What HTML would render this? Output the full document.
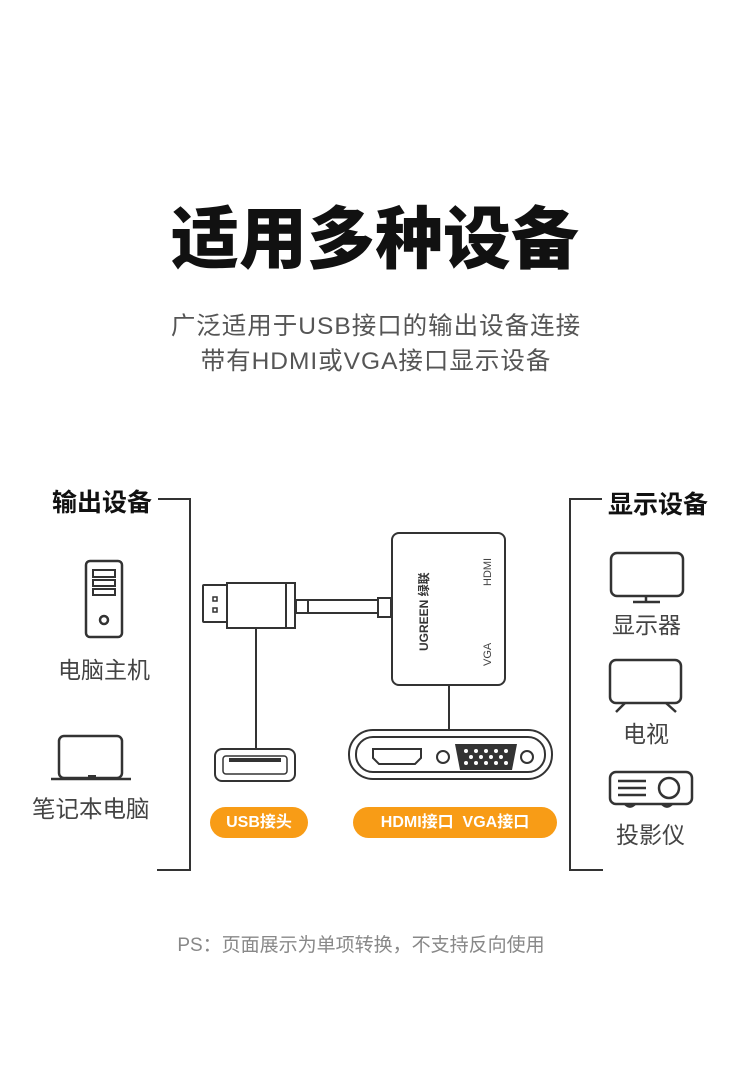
<!DOCTYPE html>
<html><head><meta charset="utf-8"><style>
body{margin:0;width:750px;height:1089px;background:#fff;font-family:"Liberation Sans","Noto Sans CJK SC",sans-serif;position:relative;overflow:hidden}
.t{position:absolute;white-space:nowrap}
</style></head><body>
<div class="t" style="left:0;width:750px;top:184px;text-align:center;font-size:68px;font-weight:900;color:#111">适用多种设备</div>
<div class="t" style="left:0;width:752px;top:309px;text-align:center;font-size:24.5px;letter-spacing:1px;color:#555;line-height:35px">广泛适用于USB接口的输出设备连接<br>带有HDMI或VGA接口显示设备</div>
<div class="t" style="left:52px;top:483px;font-size:25px;font-weight:bold;color:#111">输出设备</div>
<div class="t" style="left:608px;top:485px;font-size:25px;font-weight:bold;color:#111">显示设备</div>
<div class="t" style="left:58px;top:651px;font-size:23px;color:#444">电脑主机</div>
<div class="t" style="left:32px;top:790px;font-size:23.5px;color:#444">笔记本电脑</div>
<div class="t" style="left:612px;top:606px;font-size:23px;color:#444">显示器</div>
<div class="t" style="left:623px;top:715px;font-size:23px;color:#444">电视</div>
<div class="t" style="left:616px;top:816px;font-size:23px;color:#444">投影仪</div>
<div class="t" style="left:0;width:722px;top:930px;text-align:center;font-size:19px;color:#888">PS：页面展示为单项转换，不支持反向使用</div>
<svg width="750" height="1089" style="position:absolute;left:0;top:0" fill="none" stroke="#333" stroke-width="2.5">
<polyline points="158,499 190,499 190,870 157,870" stroke-width="2"/>
<polyline points="602,499 570,499 570,870 603,870" stroke-width="2"/>
<rect x="86" y="561" width="36" height="76" rx="4"/>
<rect x="93" y="570" width="22" height="7" stroke-width="2"/>
<rect x="93" y="580" width="22" height="6" stroke-width="2"/>
<rect x="93" y="589" width="22" height="6" stroke-width="2"/>
<circle cx="104" cy="620" r="4" stroke-width="2.5"/>
<rect x="59" y="736" width="63" height="42" rx="5"/>
<line x1="51" y1="779" x2="131" y2="779" stroke-width="2.5"/>
<line x1="88" y1="776" x2="96" y2="776" stroke-width="2"/>
<rect x="611" y="553" width="72" height="43" rx="6"/>
<line x1="646" y1="596" x2="646" y2="602"/><line x1="633" y1="602" x2="660" y2="602"/>
<rect x="610" y="660" width="71" height="43" rx="6"/>
<line x1="625" y1="703" x2="616" y2="712"/><line x1="666" y1="703" x2="676" y2="712"/>
<rect x="610" y="772" width="82" height="32" rx="6"/>
<line x1="618" y1="781" x2="646" y2="781"/><line x1="618" y1="788" x2="646" y2="788"/><line x1="618" y1="795" x2="646" y2="795"/>
<circle cx="669" cy="788" r="10"/>
<path d="M625 804 q5 5 10 0 M662 804 q5 5 10 0"/>
<rect x="203" y="585" width="24" height="37" rx="1" stroke-width="2"/>
<rect x="213" y="597" width="4" height="4" stroke-width="1.5"/><rect x="213" y="608" width="4" height="4" stroke-width="1.5"/>
<rect x="227" y="583" width="68" height="45" stroke-width="2"/>
<line x1="286" y1="583" x2="286" y2="628" stroke-width="2"/>
<rect x="296" y="600" width="12" height="13" stroke-width="2"/>
<line x1="308" y1="600" x2="378" y2="600" stroke-width="2"/><line x1="308" y1="613" x2="378" y2="613" stroke-width="2"/>
<rect x="378" y="598" width="13" height="19" stroke-width="2"/>
<rect x="392" y="533" width="113" height="152" rx="7" stroke-width="2"/>
<line x1="256" y1="628" x2="256" y2="749" stroke-width="2"/>
<rect x="215" y="749" width="80" height="32" rx="7" stroke-width="2"/>
<rect x="223" y="756" width="64" height="18" rx="3" stroke-width="1.5"/>
<path d="M229 760h52" stroke-width="4"/>
<line x1="449" y1="685" x2="449" y2="730" stroke-width="2"/>
<rect x="349" y="730" width="203" height="49" rx="24" stroke-width="2"/>
<rect x="356" y="737" width="189" height="35" rx="17" stroke-width="2"/>
<path d="M373 749 h48 v9 l-6 6 h-36 l-6 -6z" stroke-width="2"/>
<circle cx="443" cy="757" r="6" stroke-width="2"/>
<circle cx="527" cy="757" r="6" stroke-width="2"/>
<path d="M455 744 h62 l-5 26 h-52z" fill="#333" stroke="none"/>
<g fill="#fff" stroke="none">
<circle cx="466" cy="751" r="2"/><circle cx="476" cy="751" r="2"/><circle cx="486" cy="751" r="2"/><circle cx="496" cy="751" r="2"/><circle cx="506" cy="751" r="2"/>
<circle cx="471" cy="757" r="2"/><circle cx="481" cy="757" r="2"/><circle cx="491" cy="757" r="2"/><circle cx="501" cy="757" r="2"/>
<circle cx="466" cy="763" r="2"/><circle cx="476" cy="763" r="2"/><circle cx="486" cy="763" r="2"/><circle cx="496" cy="763" r="2"/><circle cx="506" cy="763" r="2"/>
</g>
<text x="0" y="0" transform="translate(428,651) rotate(-90)" fill="#333" stroke="none" font-size="12" font-weight="bold" font-family="Liberation Sans,Noto Sans CJK SC,sans-serif">UGREEN 绿联</text>
<text x="0" y="0" transform="translate(491,586) rotate(-90)" fill="#444" stroke="none" font-size="11" font-family="Liberation Sans,sans-serif">HDMI</text>
<text x="0" y="0" transform="translate(491,666) rotate(-90)" fill="#444" stroke="none" font-size="11" font-family="Liberation Sans,sans-serif">VGA</text>
</svg>
<div class="t" style="left:210px;top:807px;width:98px;height:31px;border-radius:16px;background:#f89c16;color:#fff;font-size:16px;font-weight:bold;text-align:center;line-height:31px">USB接头</div>
<div class="t" style="left:353px;top:807px;width:204px;height:31px;border-radius:16px;background:#f89c16;color:#fff;font-size:16px;font-weight:bold;text-align:center;line-height:31px">HDMI接口&nbsp; VGA接口</div>
</body></html>
